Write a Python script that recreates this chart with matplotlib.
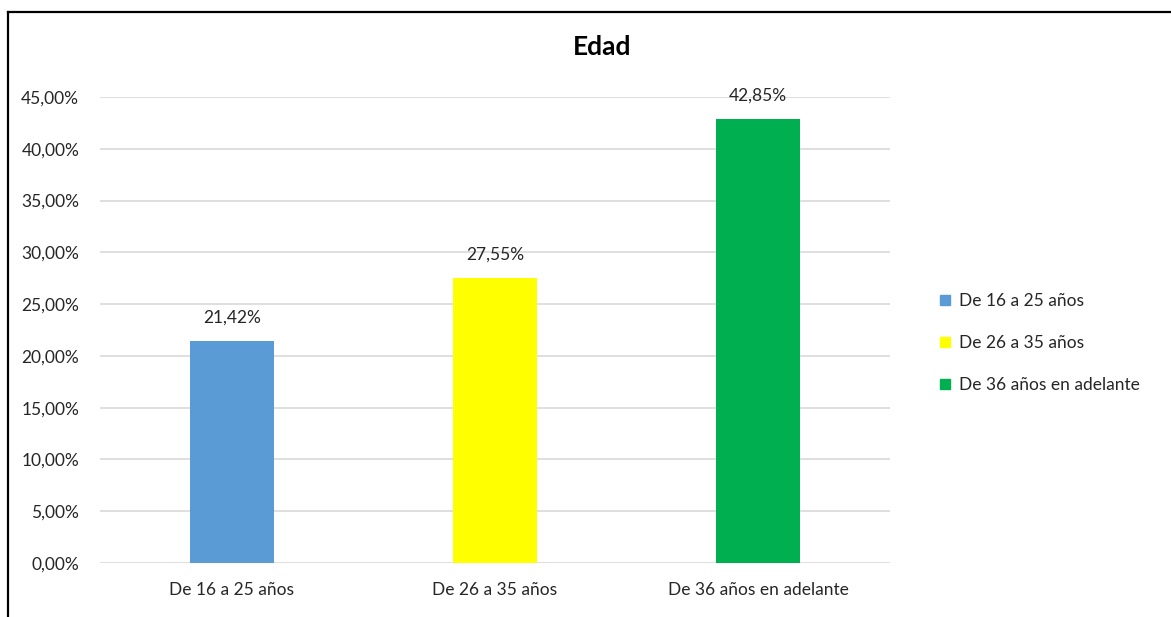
import matplotlib
matplotlib.use("Agg")
import matplotlib.pyplot as plt
from matplotlib.lines import Line2D
from matplotlib.ticker import FuncFormatter

plt.rcParams['font.family'] = ['Lato', 'DejaVu Sans']

categories = ["De 16 a 25 años", "De 26 a 35 años", "De 36 años en adelante"]
values = [0.2142, 0.2755, 0.4285]
colors = ["#5B9BD5", "#FFFF00", "#00B050"]
yticks = [0.0, 0.05, 0.10, 0.15, 0.20, 0.25, 0.30, 0.35, 0.40, 0.45]
title = "Edad"

W, H = 1171, 617
fig = plt.figure(figsize=(W / 100, H / 100), dpi=100)
ax = fig.add_axes([100 / W, 1 - 563 / H, 790 / W, (563 - 97) / H])

fs = 12.5
x = list(range(len(categories)))
bars = ax.bar(x, values, width=0.32, color=colors, zorder=3)
ax.set_xlim(-0.5, len(categories) - 0.5)
ax.set_ylim(0, 0.45)
ax.set_yticks(yticks)
fmt = lambda v, p=None: ("%.2f%%" % (v * 100)).replace(".", ",")
ax.yaxis.set_major_formatter(FuncFormatter(fmt))
ax.set_xticks(x)
ax.set_xticklabels(categories)
ax.grid(axis='y', color='#d9d9d9', linewidth=1.2, zorder=0)
for s in ax.spines.values():
    s.set_visible(False)
ax.tick_params(axis='y', length=0, pad=15, labelsize=fs, labelcolor='#262626')
ax.tick_params(axis='x', length=0, pad=14, labelsize=fs, labelcolor='#262626')

for b, v in zip(bars, values):
    ax.annotate(fmt(v), (b.get_x() + b.get_width() / 2, v), xytext=(0, 11),
                textcoords='offset points', ha='center', va='bottom',
                fontsize=fs, color='#262626')

fig.text(602 / W, 1 - 47 / H, title, ha='center', va='center',
         fontsize=19, fontweight='bold', color='#000000')

handles = [Line2D([0], [0], marker='s', linestyle='none', markersize=7.5,
                  markerfacecolor=c, markeredgecolor=c) for c in colors]
fig.legend(handles, categories, loc='center left',
           bbox_to_anchor=(922 / W, 1 - 343 / H), frameon=False,
           fontsize=fs, handlelength=0.8, handletextpad=0.45,
           labelspacing=1.5, labelcolor='#262626')

# outer frame lines
fig.add_artist(Line2D([8 / W, 1.0], [1 - 12 / H, 1 - 12 / H], color='black',
                      linewidth=1.6, transform=fig.transFigure))
fig.add_artist(Line2D([8 / W, 8 / W], [1 - 12 / H, 0.0], color='black',
                      linewidth=1.6, transform=fig.transFigure))

fig.savefig("out.png", dpi=100, facecolor='white')
